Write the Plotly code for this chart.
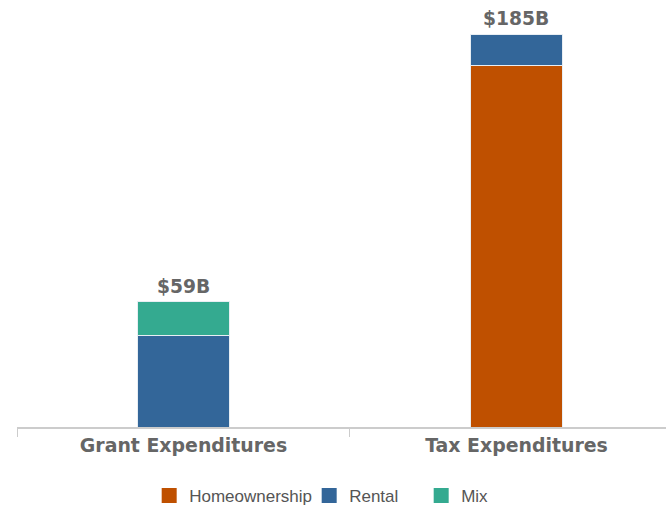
import plotly.graph_objects as go

# Federal housing expenditures by program type, in billions of dollars
categories = ["Grant Expenditures", "Tax Expenditures"]
homeownership = [0, 170]
rental = [43, 15]
mix = [16, 0]
total_labels = ["$59B", "$185B"]
totals = [59, 185]

colors = {"Homeownership": "#bf5000", "Rental": "#336699", "Mix": "#34aa90"}
series = [("Homeownership", homeownership), ("Rental", rental), ("Mix", mix)]
legend_widths = {"Homeownership": 115, "Rental": 67, "Mix": 40}

fig = go.Figure()
for name, vals in series:
    fig.add_trace(go.Bar(
        name=name, x=categories, y=vals, legendgroup=name, showlegend=False,
        marker=dict(color=colors[name], line=dict(color="#e8eef3", width=1)),
        width=0.277,
        hoverinfo="x+y+name",
    ))

# Legend entries with larger square swatches
for name, _ in series:
    fig.add_trace(go.Scatter(
        name=name, x=[None], y=[None], mode="markers", legendgroup=name,
        marker=dict(symbol="square", size=15, color=colors[name]),
        legendwidth=legend_widths[name],
        showlegend=True,
    ))

# Totals above each stacked bar
for cat, tot, lab in zip(categories, totals, total_labels):
    fig.add_annotation(
        x=cat, y=tot, text=lab, showarrow=False,
        xanchor="center", yanchor="bottom", yshift=3,
        font=dict(family="DejaVu Sans", size=18.7, color="#666666", weight="bold"),
    )

fig.update_layout(
    width=666, height=505,
    barmode="stack",
    margin=dict(l=17, r=0, t=10, b=78),
    plot_bgcolor="white", paper_bgcolor="white",
    showlegend=True,
    legend=dict(
        orientation="h", xref="container", yref="container",
        x=0.224, xanchor="left", y=0.018, yanchor="middle",
        font=dict(family="Liberation Sans, Arial", size=17, color="#555555"),
        itemwidth=30, itemsizing="trace", traceorder="normal",
    ),
    xaxis=dict(
        type="category", range=[-0.5, 1.449],
        showline=True, linecolor="#cccccc", linewidth=2,
        ticks="outside", tickson="boundaries", ticklen=8, tickcolor="#cccccc", tickwidth=1,
        tickfont=dict(family="DejaVu Sans", size=18.9, color="#666666", weight="bold"),
        showgrid=False,
    ),
    yaxis=dict(range=[0, 196.3], visible=False, showgrid=False, zeroline=False),
)

fig.write_html("out.html")
